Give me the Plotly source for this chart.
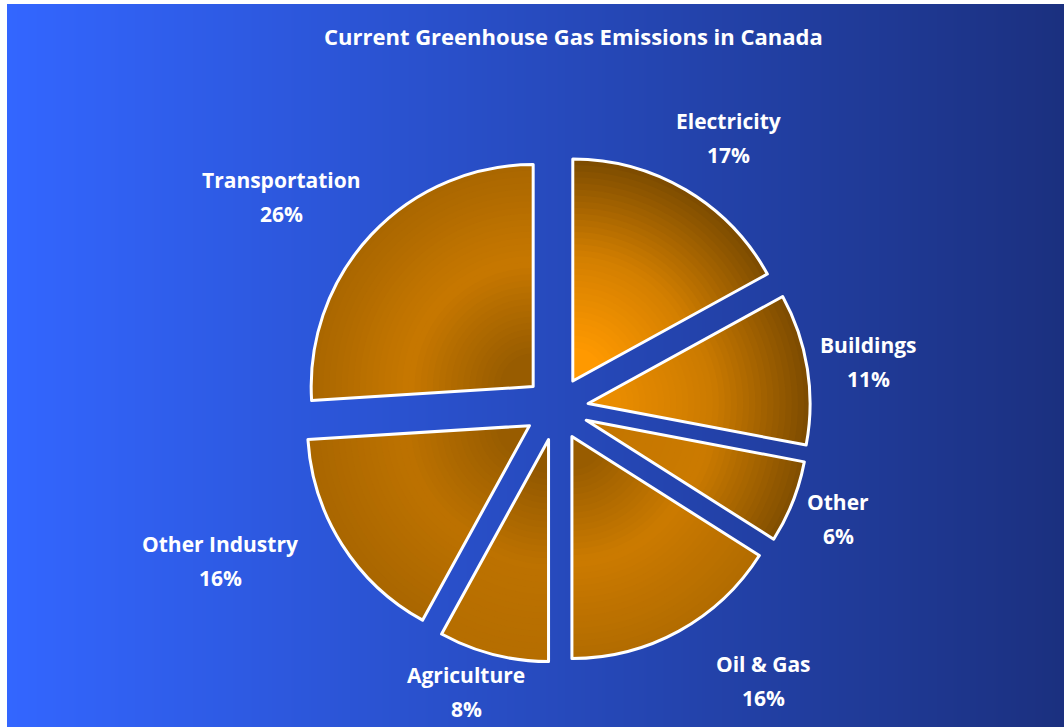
import numpy as np
import plotly.graph_objects as go

# Sector shares of national emissions (percent), clockwise from 12 o'clock
sectors = ["Electricity", "Buildings", "Other", "Oil & Gas",
           "Agriculture", "Other Industry", "Transportation"]
shares = [17, 11, 6, 16, 8, 16, 26]

title_text = "Current Greenhouse Gas Emissions in Canada"

W, H = 1064, 727
FONT = "Open Sans"

# Shading of each wedge, from centre to rim (0 = dark brown, 1 = bright orange)
shade_inner = [1.00, 0.85, 0.60, 0.30, 0.25, 0.30, 0.30]
shade_mid = [0.70, 0.65, 0.65, 0.65, 0.55, 0.55, 0.62]
shade_outer = [0.12, 0.12, 0.15, 0.48, 0.50, 0.42, 0.42]

BRIGHT = np.array([255, 153, 0])
DARK = np.array([108, 66, 0])


def shade_color(t):
    c = DARK + (BRIGHT - DARK) * float(np.clip(t, 0, 1))
    return "rgb({},{},{})".format(*[int(round(v)) for v in c])


fig = go.Figure()

# Horizontal blue gradient behind the pie
fig.add_trace(go.Heatmap(
    z=[[0, 1], [0, 1]], x=[0, 1], y=[0, 1],
    colorscale=[[0, "#3366FF"], [1, "#1B307F"]],
    zsmooth="best", showscale=False, hoverinfo="skip",
    xaxis="x", yaxis="y",
))

# Exploded pie, built from concentric layers so each wedge is shaded
cx, cy = 556.5, 408.5      # pie centre (px)
R = 222.0                  # outer radius (px)
OFFSET = 32.0              # explode distance (px)
P = OFFSET / R


def pie_domain(frac):
    """Domain giving radius frac*R with the same explode offset."""
    d = 2 * R * (frac + P)
    return dict(x=[(cx - d / 2) / W, (cx + d / 2) / W],
                y=[(H - cy - d / 2) / H, (H - cy + d / 2) / H])


fracs = np.linspace(1.0, 0.15, 32)
for f in fracs:
    s = (f - 0.15) / 0.85          # 0 at centre layer, 1 at rim
    cols = []
    for a, m, b in zip(shade_inner, shade_mid, shade_outer):
        t = np.interp(s, [0, 0.5, 1], [a, m, b])
        cols.append(shade_color(t))
    fig.add_trace(go.Pie(
        labels=sectors, values=shares,
        sort=False, direction="clockwise", rotation=0,
        pull=[P / f] * len(shares),
        marker=dict(colors=cols, line=dict(width=0)),
        textinfo="none", hoverinfo="skip",
        domain=pie_domain(f), showlegend=False,
    ))

# White outline on top
fig.add_trace(go.Pie(
    labels=sectors, values=shares,
    sort=False, direction="clockwise", rotation=0,
    pull=[P] * len(shares),
    marker=dict(colors=["rgba(0,0,0,0)"] * len(shares),
                line=dict(color="white", width=3)),
    textinfo="none", hoverinfo="label+percent",
    domain=pie_domain(1.0), showlegend=False,
))

# Label anchor points (pixel centres of the two text lines)
label_pos = {
    "Electricity": (728, 121),
    "Buildings": (868, 345),
    "Other": (838, 502),
    "Oil & Gas": (763, 664),
    "Agriculture": (466, 675),
    "Other Industry": (220, 544),
    "Transportation": (281, 180),
}
line_gap = 34

annotations = [dict(
    text=f"<b>{title_text}</b>", x=573 / W, y=1 - 36 / H,
    xref="paper", yref="paper", showarrow=False,
    xanchor="center", yanchor="middle",
    font=dict(family=FONT, size=22, color="white"),
)]
for name, val in zip(sectors, shares):
    px, py = label_pos[name]
    for txt, yy in ((name, py), (f"{val}%", py + line_gap)):
        annotations.append(dict(
            text=f"<b>{txt}</b>", x=px / W, y=1 - yy / H,
            xref="paper", yref="paper", showarrow=False,
            xanchor="center", yanchor="middle",
            font=dict(family=FONT, size=21, color="white"),
        ))

fig.update_layout(
    width=W, height=H,
    margin=dict(l=0, r=0, t=0, b=0),
    paper_bgcolor="white", plot_bgcolor="white",
    xaxis=dict(domain=[7 / W, 1], range=[0, 1], visible=False, fixedrange=True),
    yaxis=dict(domain=[0, 1 - 4 / H], range=[0, 1], visible=False, fixedrange=True),
    annotations=annotations,
)

fig.write_html("out.html")
